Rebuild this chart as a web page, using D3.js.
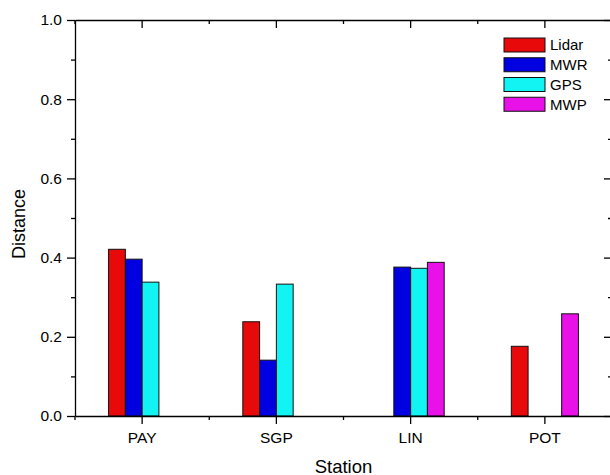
<!DOCTYPE html>
<html>
<head>
<meta charset="utf-8">
<script src="https://cdn.jsdelivr.net/npm/d3@7/dist/d3.min.js"></script>
<style>
  html, body { margin: 0; padding: 0; background: #fff; }
  svg text { font-family: "Liberation Sans", Arial, sans-serif; fill: #000; }
</style>
</head>
<body>
<svg id="chart" width="610" height="475"></svg>
<script>
// Stations along the x axis
const stations = ["PAY", "SGP", "LIN", "POT"];
// Instrument series (0 = no measurement at that station)
const seriesNames = ["Lidar", "MWR", "GPS", "MWP"];
const lidar = [0.421, 0.238, 0, 0.176];
const mwr   = [0.396, 0.141, 0.376, 0];
const gps   = [0.338, 0.333, 0.373, 0];
const mwp   = [0, 0, 0.388, 0.258];
const seriesColors = ["#e80a0a", "#0000e0", "#12f4f4", "#e812e8"];
const yTicks = [0.0, 0.2, 0.4, 0.6, 0.8, 1.0];
const yMinorTicks = [0.1, 0.3, 0.5, 0.7, 0.9];

const seriesValues = [lidar, mwr, gps, mwp];

const svg = d3.select("#chart");
const m = { left: 75, top: 20, right: 612, bottom: 416 };

const x = d3.scaleBand().domain(stations).range([m.left, m.right]).padding(0);
const bw = x.bandwidth();
const xs = d3.scaleBand().domain(seriesNames).range([bw / 4, bw * 3 / 4]).padding(0);
const y = d3.scaleLinear().domain([0, 1]).range([m.bottom, m.top]);

// Bars
seriesNames.forEach((name, si) => {
  svg.append("g")
    .selectAll("rect")
    .data(stations.map((s, i) => ({ s, v: seriesValues[si][i] })).filter(d => d.v > 0))
    .join("rect")
    .attr("x", d => x(d.s) + xs(name))
    .attr("y", d => y(d.v))
    .attr("width", xs.bandwidth())
    .attr("height", d => y(0) - y(d.v))
    .attr("fill", seriesColors[si])
    .attr("stroke", "#111")
    .attr("stroke-width", 1);
});

const axisStyle = g => {
  g.selectAll("path.domain").attr("stroke", "#000").attr("stroke-width", 1.3);
  g.selectAll(".tick line").attr("stroke", "#000").attr("stroke-width", 1.3);
};

const bounds = stations.map(s => x(s)).concat([m.right]);

// Bottom axis: labels and outward ticks
const bottomAxis = svg.append("g").attr("transform", `translate(0,${m.bottom})`)
  .call(d3.axisBottom(x).tickSize(8).tickSizeOuter(0).tickPadding(8));
bottomAxis.call(axisStyle);
bottomAxis.selectAll(".tick text").attr("font-size", 15.5);
svg.append("g").attr("transform", `translate(0,${m.bottom})`)
  .selectAll("line").data(bounds).join("line")
  .attr("x1", d => d).attr("x2", d => d).attr("y1", 0).attr("y2", 4)
  .attr("stroke", "#000").attr("stroke-width", 1.3);

// Top axis: inward ticks, no labels
const topAxis = svg.append("g").attr("transform", `translate(0,${m.top})`)
  .call(d3.axisTop(x).tickSize(-8).tickSizeOuter(0).tickFormat(""));
topAxis.call(axisStyle);
svg.append("g").attr("transform", `translate(0,${m.top})`)
  .selectAll("line").data(bounds).join("line")
  .attr("x1", d => d).attr("x2", d => d).attr("y1", 0).attr("y2", 4)
  .attr("stroke", "#000").attr("stroke-width", 1.3);

// Left axis: labels and outward ticks
const leftAxis = svg.append("g").attr("transform", `translate(${m.left},0)`)
  .call(d3.axisLeft(y).tickValues(yTicks).tickFormat(d3.format(".1f"))
    .tickSize(8).tickSizeOuter(0).tickPadding(5));
leftAxis.call(axisStyle);
leftAxis.selectAll(".tick text").attr("font-size", 15.5);
svg.append("g").attr("transform", `translate(${m.left},0)`)
  .call(d3.axisLeft(y).tickValues(yMinorTicks).tickFormat("").tickSize(4).tickSizeOuter(0))
  .call(g => g.select("path.domain").remove())
  .call(axisStyle);

// Right axis: inward ticks, no labels
svg.append("g").attr("transform", `translate(${m.right},0)`)
  .call(d3.axisRight(y).tickValues(yTicks).tickFormat("").tickSize(-8).tickSizeOuter(0))
  .call(axisStyle);
svg.append("g").attr("transform", `translate(${m.right},0)`)
  .call(d3.axisRight(y).tickValues(yMinorTicks).tickFormat("").tickSize(-4).tickSizeOuter(0))
  .call(g => g.select("path.domain").remove())
  .call(axisStyle);

// Axis titles
svg.append("text")
  .attr("x", (m.left + m.right) / 2).attr("y", 472.5)
  .attr("text-anchor", "middle").attr("font-size", 18.5)
  .text("Station");
svg.append("text")
  .attr("transform", "translate(25,224) rotate(-90)")
  .attr("text-anchor", "middle").attr("font-size", 18)
  .text("Distance");

// Legend
const legend = svg.append("g").attr("transform", "translate(504,38)");
const ly = d3.scaleBand().domain(seriesNames).range([0, 79]).padding(0);
seriesNames.forEach((name, i) => {
  legend.append("rect")
    .attr("x", 0).attr("y", ly(name))
    .attr("width", 41).attr("height", 14)
    .attr("fill", seriesColors[i]).attr("stroke", "#111").attr("stroke-width", 1);
  legend.append("text")
    .attr("x", 46).attr("y", ly(name) + 7).attr("dy", "0.36em")
    .attr("font-size", 15)
    .text(name);
});
</script>
</body>
</html>
